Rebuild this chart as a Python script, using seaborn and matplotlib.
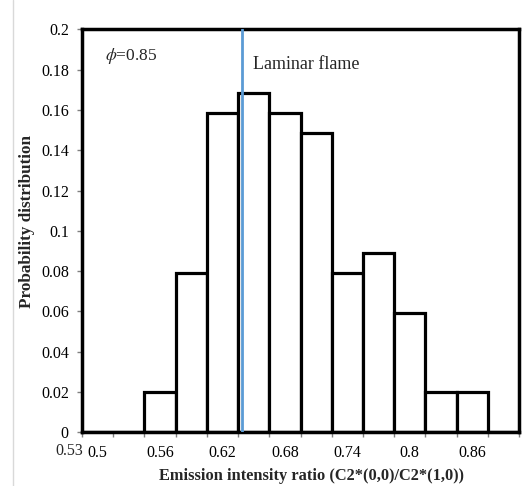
import matplotlib
matplotlib.use("Agg")
import matplotlib.pyplot as plt
import numpy as np
import pandas as pd
import seaborn as sns
from matplotlib.lines import Line2D

# bin centres of the emission intensity ratio and their probabilities
BINS = [0.50, 0.53, 0.56, 0.59, 0.62, 0.65, 0.68, 0.71, 0.74, 0.77, 0.80, 0.83, 0.86, 0.89]
PROB = [0.0, 0.0, 0.0198, 0.0792, 0.1584, 0.1683, 0.1584, 0.1485, 0.0792, 0.0891, 0.0594, 0.0198, 0.0198, 0.0]
BIN_LABELS = ["0.5", "", "0.56", "", "0.62", "", "0.68", "", "0.74", "", "0.8", "", "0.86", ""]
Y_TICKS = [0, 0.02, 0.04, 0.06, 0.08, 0.1, 0.12, 0.14, 0.16, 0.18, 0.2]
LAMINAR = 0.639  # laminar flame ratio
BIN_STEP = 0.03

df = pd.DataFrame({"bin": [f"{b:.2f}" for b in BINS], "prob": PROB})

sns.set_theme(style="white")
plt.rcParams["font.family"] = ["Liberation Serif", "DejaVu Serif"]
plt.rcParams["mathtext.fontset"] = "stix"

fig = plt.figure(figsize=(5.26, 4.86), dpi=100)
ax = fig.add_axes([0.1559, 0.1105, 0.9867 - 0.1559, 0.9397 - 0.1105])

sns.barplot(
    data=df, x="bin", y="prob", order=df["bin"].tolist(),
    width=1.0, color="white", edgecolor="black", linewidth=2.3,
    saturation=1, ax=ax,
)

# laminar flame reference line, converted to bar position
lam_pos = (LAMINAR - BINS[0]) / BIN_STEP
ax.axvline(lam_pos, color="#5B9BD5", lw=2.0, zorder=5)

ax.set_xlim(-0.5, len(BINS) - 0.5)
ax.set_ylim(0, 0.2)

# category labels at centres, tick marks at bin boundaries
ax.set_xticks(np.arange(len(BINS)))
ax.set_xticklabels(BIN_LABELS, fontsize=11.5, color="black")
ax.tick_params(axis="x", which="major", length=0, pad=9)
ax.set_xticks(np.arange(len(BINS) + 1) - 0.5, minor=True)
ax.tick_params(axis="x", which="minor", length=3.5, width=1, color="#808080", bottom=True)

ax.set_yticks(Y_TICKS)
ax.set_yticklabels([f"{v:g}" for v in Y_TICKS], fontsize=11.5, color="black")
ax.tick_params(axis="y", length=3.5, width=1, color="#808080", left=True, pad=6)

for s in ax.spines.values():
    s.set_color("black")
    s.set_linewidth(2.5)

ax.set_xlabel("Emission intensity ratio (C2*(0,0)/C2*(1,0))", fontsize=11.8,
              fontweight="bold")
ax.xaxis.set_label_coords(0.526, -0.088)
ax.set_ylabel("Probability distribution", fontsize=12.3, fontweight="bold")
ax.yaxis.set_label_coords(-0.107, 0.522)

ax.text(0.052, 0.935, r"$\phi$=0.85", transform=ax.transAxes, fontsize=12.5,
        va="center", ha="left")
ax.text(0.392, 0.913, "Laminar flame", transform=ax.transAxes, fontsize=13,
        va="center", ha="left")

# stray category label left of the axis, as in the source
fig.text(69.5 / 526, 1 - 451 / 486, "0.53", fontsize=11.5, ha="center", va="center")

fig.add_artist(Line2D([13 / 526, 13 / 526], [0, 1], color="#d9d9d9", lw=1,
                      transform=fig.transFigure))

fig.savefig("out.png", dpi=100)
